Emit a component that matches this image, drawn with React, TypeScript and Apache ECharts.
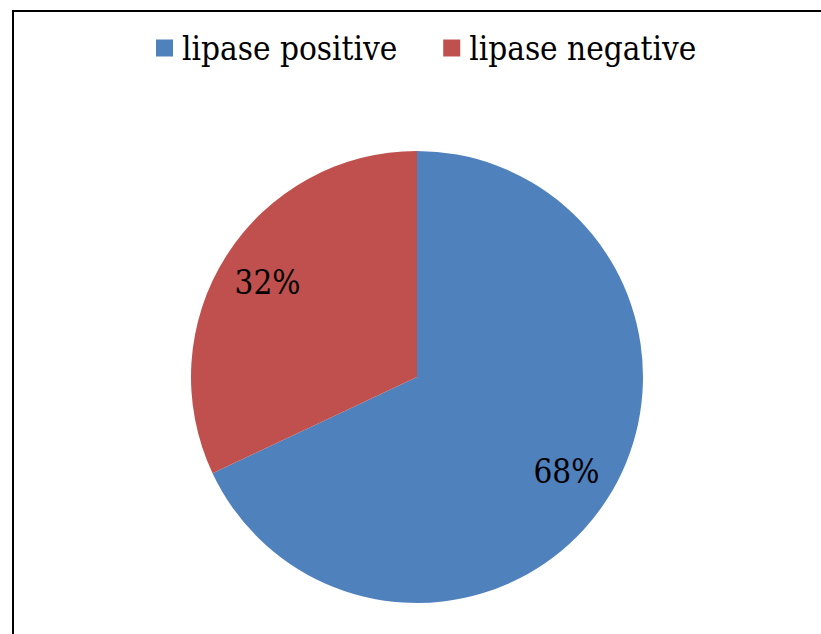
import React, { useEffect, useRef } from "react";
import * as echarts from "echarts";

// Share of isolates by lipase activity
const categories = ["lipase positive", "lipase negative"];
const percentages = [68, 32];
const sliceColors = ["#4F81BD", "#C0504D"];

const FONT = "DejaVu Serif Condensed, DejaVu Serif";

export default function App() {
  const ref = useRef<HTMLDivElement>(null);

  useEffect(() => {
    if (!ref.current) return;
    const chart = echarts.init(ref.current, undefined, { renderer: "svg" });

    const pieData = categories.map((name, i) => ({
      name,
      value: percentages[i],
      itemStyle: { color: sliceColors[i] },
    }));

    const center = [417, 377];

    chart.setOption({
      animation: false,
      backgroundColor: "#ffffff",
      textStyle: { fontFamily: FONT },
      legend: {
        data: categories,
        left: 156,
        top: 28,
        padding: 0,
        icon: "rect",
        itemWidth: 17,
        itemHeight: 17,
        itemGap: 46,
        selectedMode: false,
        textStyle: {
          fontFamily: FONT,
          fontSize: 33,
          lineHeight: 40,
          color: "#000000",
          padding: [0, 0, 0, 4],
        },
      },
      graphic: [
        {
          type: "rect",
          shape: { x: 13, y: 11, width: 900, height: 700 },
          style: { fill: "none", stroke: "#000000", lineWidth: 2 },
          silent: true,
        },
      ],
      series: [
        {
          type: "pie",
          center,
          radius: [0, 226],
          startAngle: 90,
          clockwise: true,
          silent: true,
          label: { show: false },
          labelLine: { show: false },
          data: pieData,
        },
        {
          // transparent ring used only to place the percentage labels
          type: "pie",
          center,
          radius: [0, 348],
          startAngle: 90,
          clockwise: true,
          silent: true,
          itemStyle: { color: "rgba(0,0,0,0)" },
          labelLine: { show: false },
          label: {
            show: true,
            position: "inside",
            formatter: "{c}%",
            fontFamily: FONT,
            fontSize: 33,
            color: "#000000",
          },
          data: categories.map((name, i) => ({
            name,
            value: percentages[i],
            itemStyle: { color: "rgba(0,0,0,0)" },
          })),
        },
      ],
    });

    return () => chart.dispose();
  }, []);

  return (
    <div
      ref={ref}
      style={{ position: "fixed", left: 0, top: 0, width: 821, height: 634 }}
    />
  );
}
